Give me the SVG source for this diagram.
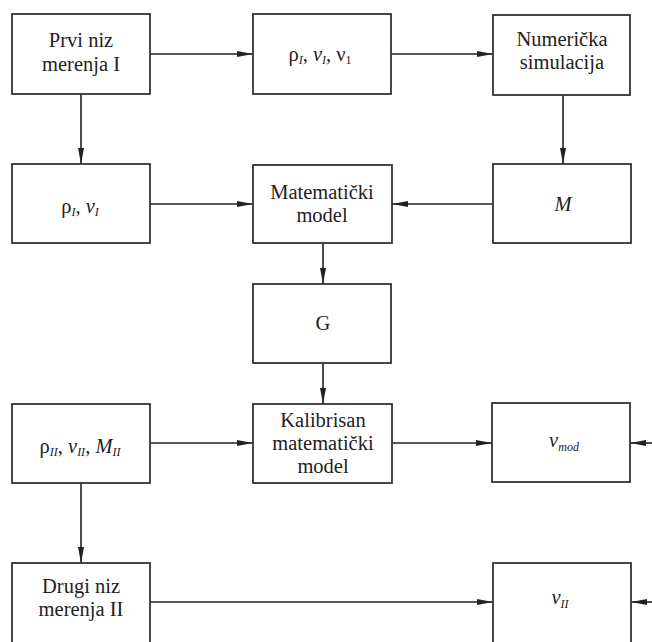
<svg xmlns="http://www.w3.org/2000/svg" width="652" height="642" viewBox="0 0 652 642">
<style>
.box{fill:#fff;stroke:#333;stroke-width:1.8}
text{font-family:'Liberation Serif','DejaVu Serif',serif;font-size:20.5px;fill:#222;text-anchor:middle}
.it{font-style:italic}
.sub{font-size:12px;font-style:italic}
.c{stroke:#222;stroke-width:1.6;fill:none;marker-end:url(#ah)}
</style>
<defs>
<marker id="ah" markerUnits="userSpaceOnUse" markerWidth="17" markerHeight="6" refX="16" refY="3" orient="auto">
<path d="M0,0 L16,3 L0,6 Z" fill="#222"/>
</marker>
</defs>
<rect width="652" height="642" fill="#fff"/>
<g id="connectors">
<line class="c" x1="150" y1="54" x2="253" y2="54"/>
<line class="c" x1="391" y1="54" x2="493" y2="54"/>
<line class="c" x1="81" y1="94" x2="81" y2="164"/>
<line class="c" x1="563" y1="95" x2="563" y2="164"/>
<line class="c" x1="150" y1="204" x2="253" y2="204"/>
<line class="c" x1="493" y1="204" x2="392" y2="204"/>
<line class="c" x1="323" y1="243" x2="323" y2="284"/>
<line class="c" x1="323" y1="363" x2="323" y2="404"/>
<line class="c" x1="150" y1="443" x2="253" y2="443"/>
<line class="c" x1="392" y1="443" x2="492" y2="443"/>
<line class="c" x1="652" y1="443" x2="630" y2="443"/>
<line class="c" x1="81" y1="483" x2="81" y2="563"/>
<line class="c" x1="150" y1="602" x2="493" y2="602"/>
<line class="c" x1="652" y1="602" x2="631" y2="602"/>
</g>
<g id="n1"><rect class="box" x="12" y="14" width="138" height="80"/>
<text x="81" y="47">Prvi niz</text><text x="81" y="71">merenja I</text></g>
<g id="n2"><rect class="box" x="253" y="14" width="138" height="80"/>
<text x="320" y="61">ρ<tspan class="sub" dy="3">I</tspan><tspan dy="-3">, </tspan><tspan class="it">v</tspan><tspan class="sub" dy="3">I</tspan><tspan dy="-3">, ν</tspan><tspan font-size="12px" dy="3">1</tspan></text></g>
<g id="n3"><rect class="box" x="493" y="15" width="137" height="80"/>
<text x="562" y="46">Numerička</text><text x="562" y="69">simulacija</text></g>
<g id="n4"><rect class="box" x="12" y="164" width="138" height="79"/>
<text x="80" y="213">ρ<tspan class="sub" dy="3">I</tspan><tspan dy="-3">, </tspan><tspan class="it">v</tspan><tspan class="sub" dy="3">I</tspan></text></g>
<g id="n5"><rect class="box" x="253" y="165" width="139" height="78"/>
<text x="322" y="199">Matematički</text><text x="322" y="222">model</text></g>
<g id="n6"><rect class="box" x="493" y="164" width="138" height="79"/>
<text class="it" x="563" y="211">M</text></g>
<g id="n7"><rect class="box" x="253" y="284" width="138" height="79"/>
<text x="323" y="330">G</text></g>
<g id="n8"><rect class="box" x="12" y="404" width="138" height="79"/>
<text x="80" y="453">ρ<tspan class="sub" dy="3">II</tspan><tspan dy="-3">, </tspan><tspan class="it">v</tspan><tspan class="sub" dy="3">II</tspan><tspan dy="-3">, </tspan><tspan class="it">M</tspan><tspan class="sub" dy="3">II</tspan></text></g>
<g id="n9"><rect class="box" x="253" y="404" width="139" height="79"/>
<text x="323" y="427">Kalibrisan</text><text x="323" y="450">matematički</text><text x="323" y="473">model</text></g>
<g id="n10"><rect class="box" x="492" y="403" width="138" height="79"/>
<text x="564" y="447"><tspan class="it">v</tspan><tspan class="sub" font-size="11px" dy="4">mod</tspan></text></g>
<g id="n11"><rect class="box" x="12" y="563" width="138" height="90"/>
<text x="81" y="593">Drugi niz</text><text x="81" y="616">merenja II</text></g>
<g id="n12"><rect class="box" x="493" y="563" width="138" height="90"/>
<text x="560" y="604"><tspan class="it">v</tspan><tspan class="sub" dy="4">II</tspan></text></g>
</svg>
